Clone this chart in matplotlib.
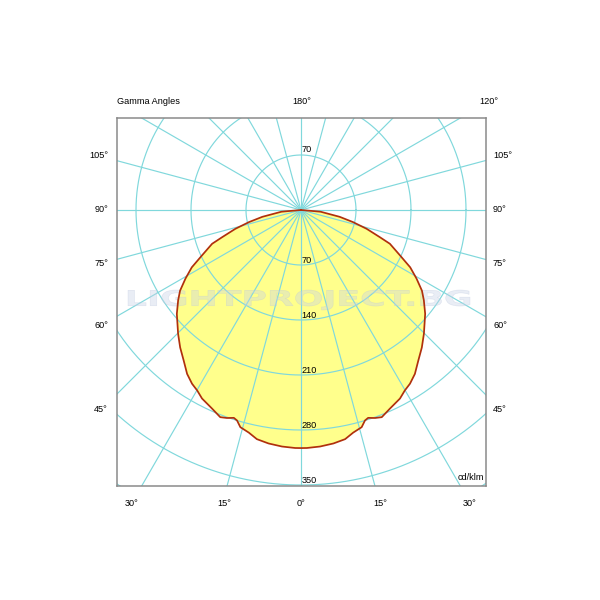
import numpy as np
import matplotlib
matplotlib.use("Agg")
import matplotlib.pyplot as plt
from matplotlib.textpath import TextPath
from matplotlib.patches import PathPatch
from matplotlib.font_manager import FontProperties
from matplotlib.transforms import Affine2D

plt.rcParams['font.family'] = ['Liberation Sans', 'DejaVu Sans']

# ---- data (gamma angle in degrees, luminous intensity in cd/klm) ----
gamma_deg = [0, 1.4, 4.6, 7.9, 10.9, 13.2, 15.6, 16.9, 17.9, 19.6, 21.3, 24.1,
             27.7, 29.9, 32.1, 34.8, 37.9, 41.3, 44.8, 50.1, 53.7, 56.3, 59.3,
             62.3, 65.3, 69.2, 71.0, 74.0, 76.9, 80.0, 85.0, 90.0]
intensity = [303, 303, 302, 300, 297, 291, 287, 280, 278, 281, 283, 277,
             271, 265, 261, 254, 243, 233, 222, 206, 194, 185, 171,
             157, 139, 121, 106, 87, 68, 50, 25, 0]

ring_values = [70, 140, 210, 280, 350, 420]
ring_labels_below = [70, 140, 210, 280, 350]
ring_label_above = 70
spoke_angles = list(range(0, 360, 15))

left_labels = ['105°', '90°', '75°', '60°', '45°']
right_labels = ['105°', '90°', '75°', '60°', '45°']
bottom_labels = ['30°', '15°', '0°', '15°', '30°']
top_labels = ['Gamma Angles', '180°', '120°']
unit_label = 'cd/klm'
watermark = 'LIGHTPROJECT.BG'

# ---- colours ----
grid_c = '#80d8dc'
fill_c = '#ffff8c'
curve_c = '#b0300c'
frame_c = '#8a8a8a'

W = 600
fig = plt.figure(figsize=(6, 6), dpi=100)
# axes box in pixels: x 117..486, y 118..486
ax = fig.add_axes([117 / W, 1 - 486 / W, 369 / W, 368 / W])
pxu = 55.0 / 70.0  # pixels per cd/klm
ax.set_xlim(-184 / pxu, 185 / pxu)
ax.set_ylim(-276 / pxu, 92 / pxu)
ax.set_xticks([])
ax.set_yticks([])
for s in ax.spines.values():
    s.set_color(frame_c)
    s.set_linewidth(1.1)

g = np.radians(np.array(gamma_deg))
I = np.array(intensity, dtype=float)
xr = I * np.sin(g)
yr = -I * np.cos(g)
x_full = np.concatenate([xr[::-1] * -1, xr[1:]])
y_full = np.concatenate([yr[::-1], yr[1:]])

ax.fill(x_full, y_full, color=fill_c, lw=0, zorder=1)

t = np.linspace(0, 2 * np.pi, 721)
for r in ring_values:
    ax.plot(r * np.cos(t), r * np.sin(t), color=grid_c, lw=0.85, zorder=2)
for a in spoke_angles:
    ar = np.radians(a)
    ax.plot([0, 700 * np.sin(ar)], [0, -700 * np.cos(ar)], color=grid_c, lw=0.85, zorder=2)

# watermark
tp = TextPath((0, 0), watermark, size=1, prop=FontProperties(family='DejaVu Sans', weight='bold'))
ext = tp.get_extents()
x0, x1 = (128 - 301) / pxu, (470 - 301) / pxu
y0, y1 = (210 - 310) / pxu, (210 - 290) / pxu
tr = Affine2D().translate(-ext.x0, -ext.y0).scale((x1 - x0) / ext.width, (y1 - y0) / ext.height).translate(x0, y0)
ax.add_patch(PathPatch(tr.transform_path(tp), fc='#c8d2e6', ec='#b8c4dc', lw=0.4, alpha=0.4, zorder=2.5))

ax.plot(x_full, y_full, color=curve_c, lw=1.25, zorder=3, solid_joinstyle='round')

fs = 6.6
for v in ring_labels_below:
    ax.text(1.0, -v + 6, str(v), ha='left', va='center', fontsize=fs, zorder=4)
ax.text(1.0, ring_label_above + 7.4, str(ring_label_above), ha='left', va='center', fontsize=fs, zorder=4)
ax.text(183 / pxu, -267 / pxu, unit_label, ha='right', va='center', fontsize=fs, zorder=4)

def ftext(px, py, s, ha):
    fig.text(px / W, 1 - py / W, s, ha=ha, va='center', fontsize=fs)

ftext(117, 101, top_labels[0], 'left')
ftext(301.5, 101, top_labels[1], 'center')
ftext(489, 101, top_labels[2], 'center')
side_y = [155.7, 210, 263, 326, 410]
for s, yy in zip(left_labels, side_y):
    ftext(108, yy, s, 'right')
for s, yy in zip(right_labels, side_y):
    ftext(493, yy, s, 'left')
bottom_x = [132, 224, 301.5, 380, 470]
for s, xx in zip(bottom_labels, bottom_x):
    ftext(xx, 503, s, 'center')

fig.savefig('out.png', dpi=100, facecolor='white')
